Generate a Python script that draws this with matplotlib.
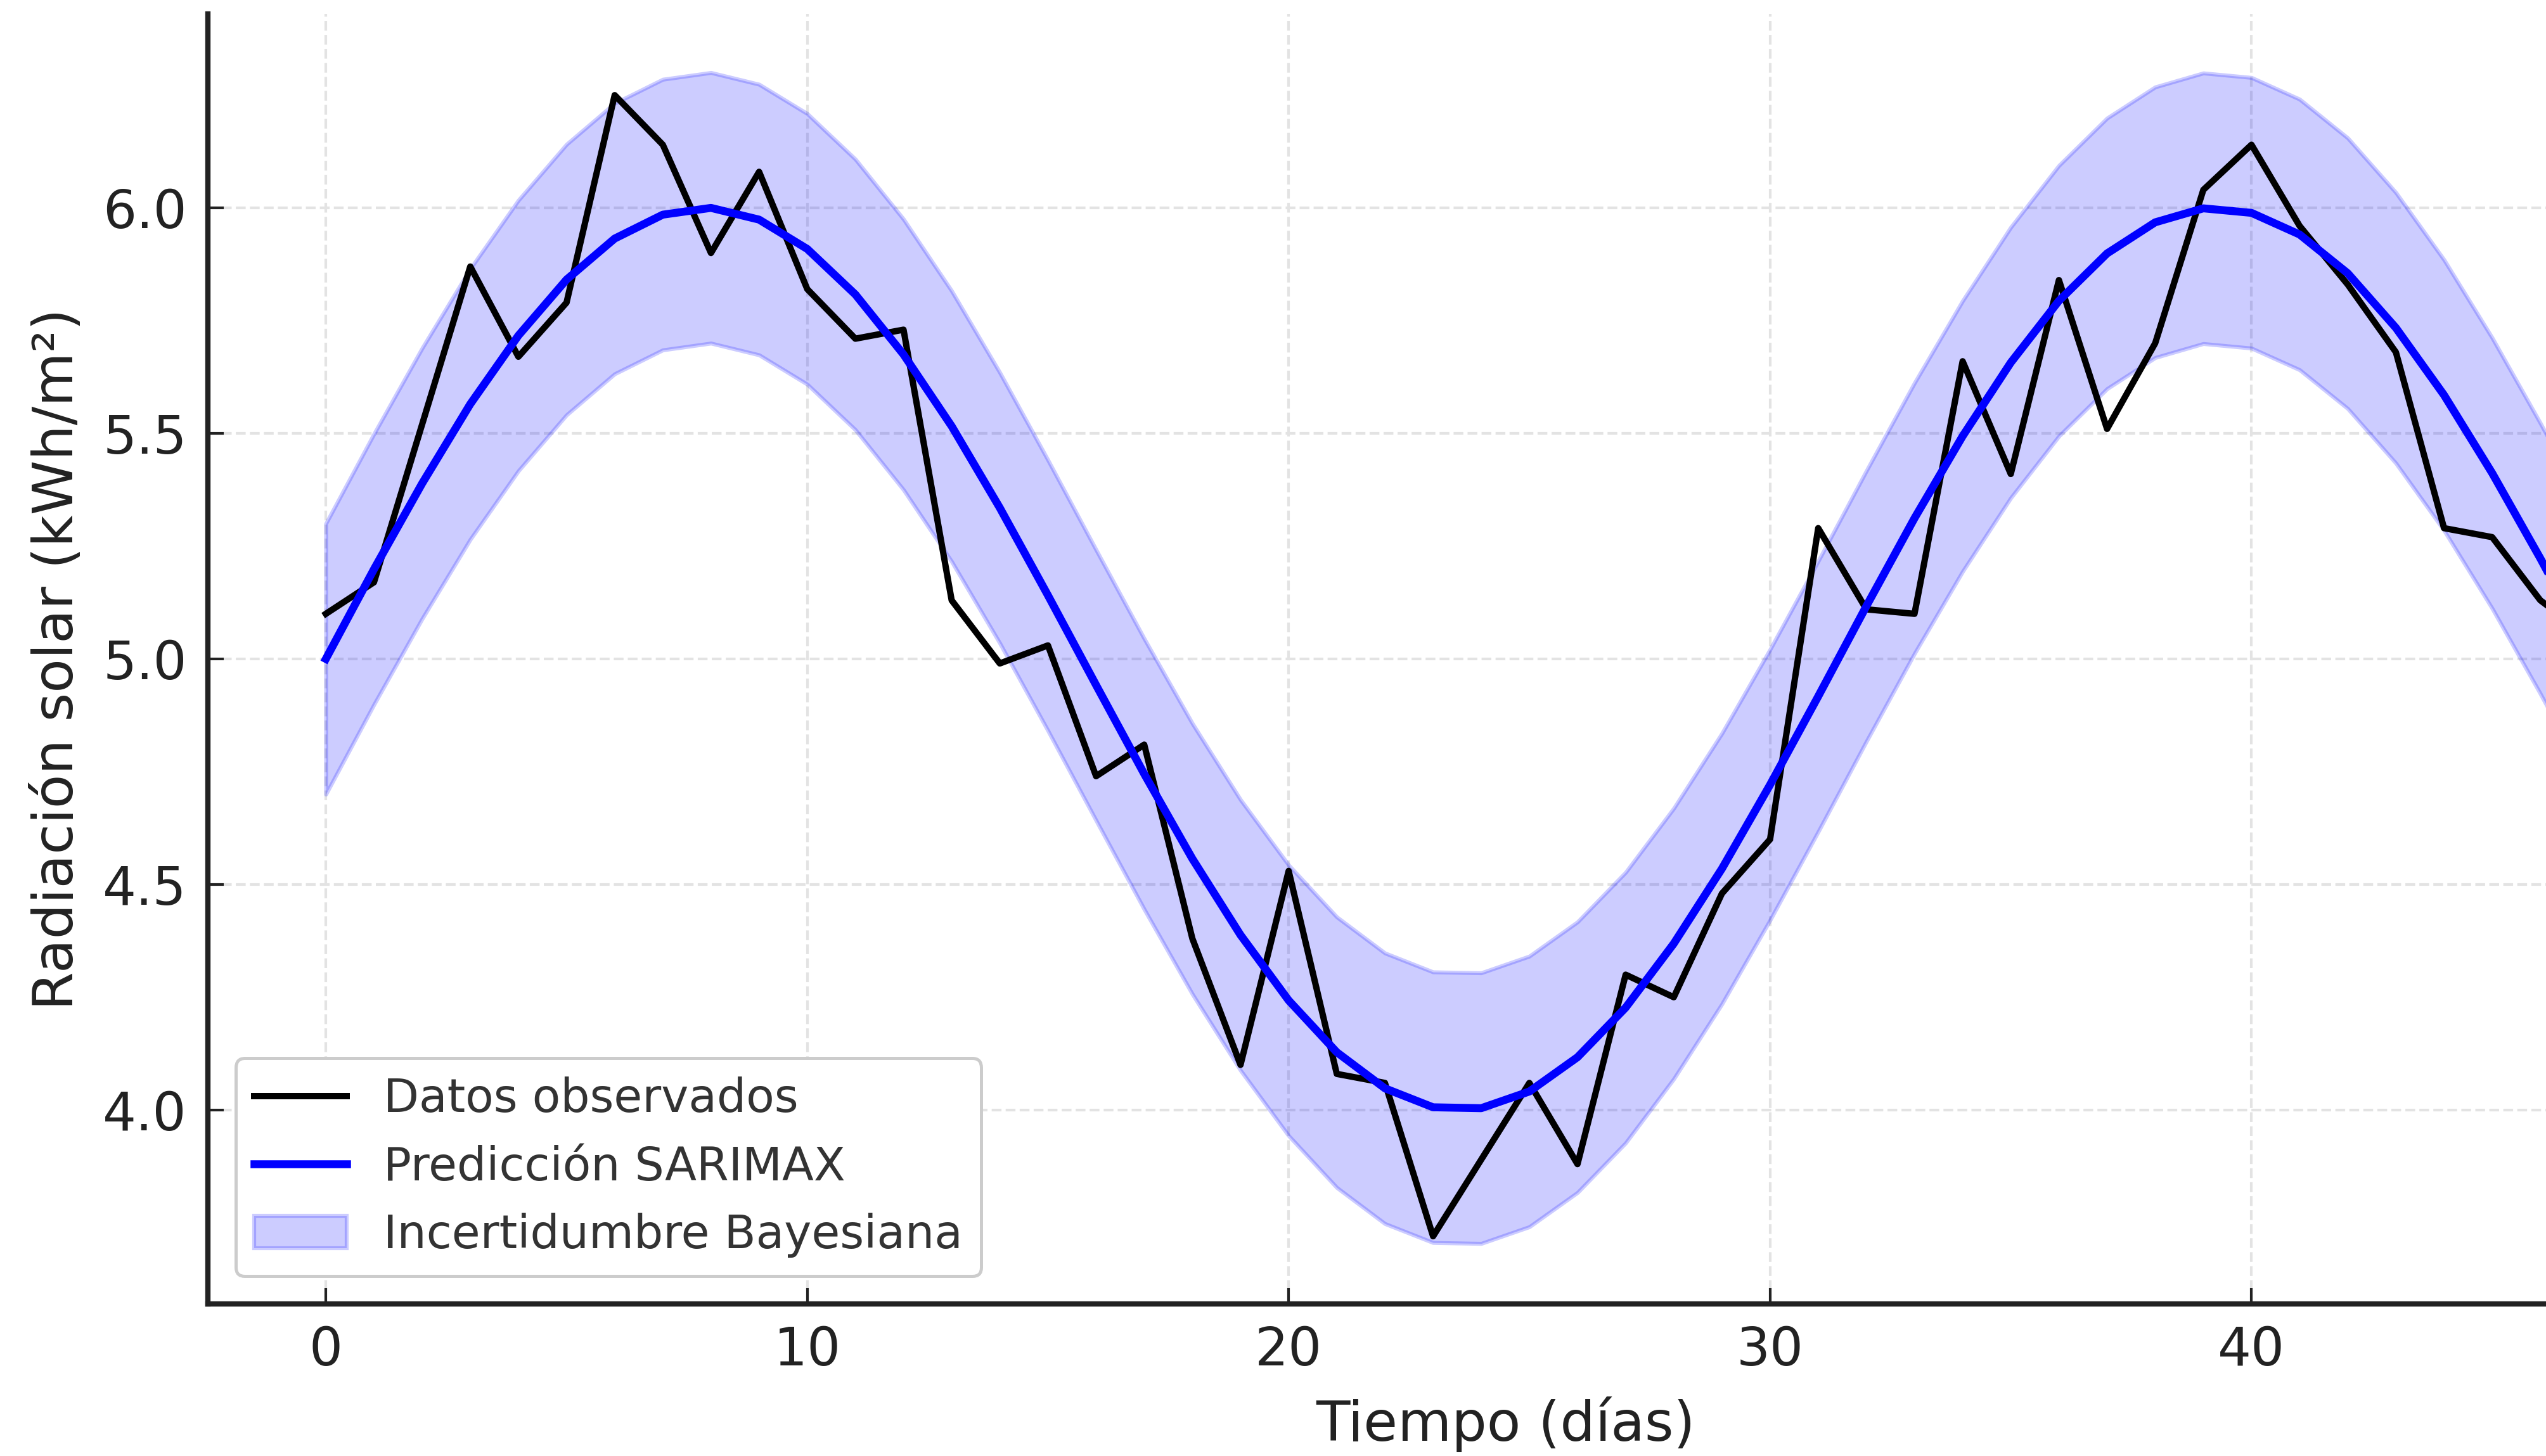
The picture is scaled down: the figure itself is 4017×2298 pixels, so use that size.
import matplotlib
matplotlib.use("Agg")
import matplotlib.pyplot as plt
import numpy as np

# ---- data ----
days = list(range(50))
observed = [5.10, 5.17, 5.52, 5.87, 5.67, 5.79, 6.25, 6.14, 5.90, 6.08,
            5.82, 5.71, 5.73, 5.13, 4.99, 5.03, 4.74, 4.81, 4.38, 4.10,
            4.53, 4.08, 4.06, 3.72, 3.89, 4.06, 3.88, 4.30, 4.25, 4.48,
            4.60, 5.29, 5.11, 5.10, 5.66, 5.41, 5.84, 5.51, 5.70, 6.04,
            6.14, 5.96, 5.83, 5.68, 5.29, 5.27, 5.13, 5.05, 4.80, 4.62]
predicted = [5.000, 5.199, 5.389, 5.565, 5.717, 5.841, 5.932, 5.985, 6.000, 5.974,
             5.909, 5.808, 5.675, 5.516, 5.335, 5.141, 4.942, 4.745, 4.557, 4.388,
             4.243, 4.128, 4.048, 4.006, 4.004, 4.041, 4.117, 4.227, 4.369, 4.535,
             4.721, 4.917, 5.117, 5.312, 5.494, 5.657, 5.794, 5.899, 5.968, 5.999,
             5.989, 5.941, 5.855, 5.734, 5.585, 5.412, 5.223, 5.025, 4.826, 4.634]
band_halfwidth = 0.3
x_ticks = [0, 10, 20, 30, 40]
y_ticks = [4.0, 4.5, 5.0, 5.5, 6.0]

labels = ["Datos observados", "Predicción SARIMAX", "Incertidumbre Bayesiana"]
xlabel = "Tiempo (días)"
ylabel = "Radiación solar (kWh/m²)"

plt.rcParams['font.family'] = ['DejaVu Sans']

W, H, DPI = 4017, 2298, 300
fig = plt.figure(figsize=(W / DPI, H / DPI), dpi=DPI)
fig.patch.set_facecolor("white")

# axes extends beyond the right edge of the figure (the reference is cropped)
left_px, right_px, bottom_px, top_px = 328, 4422, 2058, 22
ax = fig.add_axes([left_px / W, 1 - bottom_px / H,
                   (right_px - left_px) / W, (bottom_px - top_px) / H])

t = np.array(days)
pred = np.array(predicted)
ax.fill_between(t, pred - band_halfwidth, pred + band_halfwidth,
                color="blue", alpha=0.2, linewidth=1.5, label=labels[2], zorder=2)
ax.plot(t, observed, color="black", linewidth=2.4, label=labels[0], zorder=3)
ax.plot(t, pred, color="blue", linewidth=3.0, label=labels[1], zorder=4)

ax.set_xlim(-2.45, 51.45)
ax.set_ylim(3.57, 6.43)
ax.set_xticks(x_ticks)
ax.set_yticks(y_ticks)
ax.set_yticklabels([f"{v:.1f}" for v in y_ticks])

ax.grid(True, linestyle="--", color="#e3e3e3", linewidth=1.0, zorder=0)
ax.set_axisbelow(True)

for s in ["top", "right"]:
    ax.spines[s].set_visible(False)
for s in ["left", "bottom"]:
    ax.spines[s].set_linewidth(2.0)
    ax.spines[s].set_color("#222222")

ax.tick_params(axis="both", direction="in", length=6, width=1.0,
               colors="#222222", labelsize=20, pad=8)

ax.set_xlabel(xlabel, fontsize=21, color="#222222", labelpad=7.5)
ax.set_ylabel(ylabel, fontsize=21, color="#222222", labelpad=7)

handles, labs = ax.get_legend_handles_labels()
order = [labs.index(l) for l in labels]
leg = ax.legend([handles[i] for i in order], [labs[i] for i in order],
                loc="lower left", fontsize=17.5, frameon=True, fancybox=True,
                framealpha=1.0, borderaxespad=0.6, handlelength=2.0)
leg.get_frame().set_edgecolor("#cccccc")
leg.get_frame().set_linewidth(1.2)
for txt in leg.get_texts():
    txt.set_color("#333333")

fig.savefig("out.png", dpi=DPI, facecolor="white")
